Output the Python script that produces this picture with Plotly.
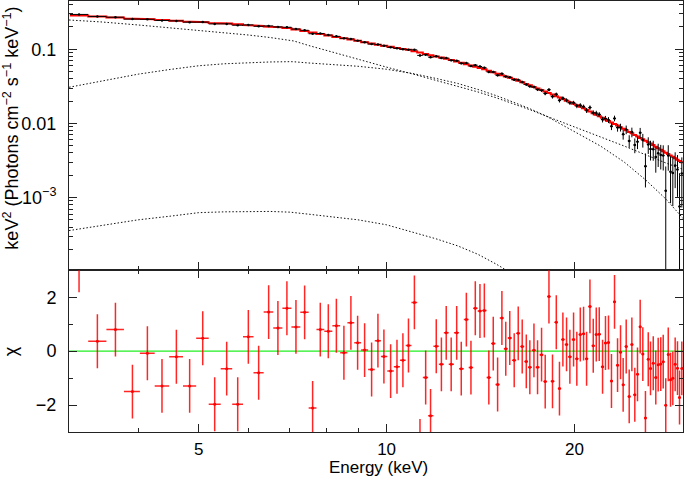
import numpy as np
import plotly.graph_objects as go

# ---------------- data ----------------
# bin centres (keV)
energy = [3.216, 3.441, 3.678, 3.916, 4.138, 4.367, 4.605, 4.836, 5.075, 5.304,
          5.544, 5.774, 6.005, 6.238, 6.472, 6.697, 6.923, 7.158, 7.391, 7.612,
          7.830, 8.065, 8.309, 8.543, 8.766, 8.986, 9.221, 9.462, 9.685, 9.901,
          10.15, 10.39, 10.62, 10.84, 11.08, 11.31, 11.55, 11.76, 12.01, 12.24,
          12.46, 12.69, 12.95, 13.17, 13.42, 13.65, 13.87, 14.11, 14.34, 14.58,
          14.82, 15.06, 15.30, 15.52, 15.75, 16.01, 16.25, 16.49, 16.74, 16.96,
          17.22, 17.45, 17.71, 17.95, 18.20, 18.44, 18.70, 18.92, 19.16, 19.42,
          19.66, 19.93, 20.17, 20.43, 20.68, 20.91, 21.17, 21.43, 21.67, 21.91,
          22.18, 22.42, 22.67, 22.92, 23.18, 23.44, 23.70, 23.93, 24.20, 24.47,
          24.71, 24.98, 25.23, 25.48, 25.73, 25.98, 26.25, 26.47, 26.74, 26.99,
          27.23, 27.49, 27.74, 28.00, 28.26, 28.50, 28.74, 28.99, 29.24, 29.46, 29.71]

# residuals (chi)
chi = [3.19, 0.37, 0.80, -1.50, -0.08, -1.29, -0.21, -1.29, 0.48, -1.97,
       -0.65, -1.97, 0.53, -0.80, 1.45, 0.86, 1.59, 0.90, 1.44, -2.11,
       0.80, 0.74, 0.94, -0.06, 1.05, 0.31, 0.04, -0.68, 0.39, -0.20,
       -0.74, -0.58, -0.34, 0.21, 1.81, -3.52, -0.98, -2.40, 0.18, -0.49,
       0.68, -0.49, 0.68, -0.65, 1.17, -0.61, 1.59, 1.49, 1.51, -0.98,
       0.28, -1.24, 1.23, 0.09, 0.49, -0.34, 0.66, 0.17, -0.38, -0.60,
       0.03, -0.60, -0.13, -1.13, 2.03, -1.12, 1.07, -1.39, 0.43, 0.25,
       -0.21, 0.43, -0.28, 0.62, 0.65, -0.28, 1.66, 0.20, 0.62, 0.63,
       -0.58, 0.30, 0.32, -1.11, 1.83, -0.52, -0.04, -1.25, 0.17, -1.68,
       0.25, -1.62, -0.86, 0.91, -0.11, -2.48, -0.30, -0.64, -0.45, -0.98,
       -0.50, -0.48, -0.39, -2.01, -0.12, -1.06, -1.01, -0.49, -0.63, -1.72, -0.64]
chi_err = [1.0] * len(chi)

# total model, keV^2 (Photons cm^-2 s^-1 keV^-1), per bin
model = [0.285, 0.276, 0.268, 0.260, 0.254, 0.248, 0.242, 0.236, 0.231, 0.226,
         0.222, 0.217, 0.2115, 0.2067, 0.2021, 0.1975, 0.1932, 0.185, 0.176, 0.168,
         0.161, 0.1536, 0.1469, 0.1408, 0.1353, 0.1298, 0.1243, 0.1192, 0.1153, 0.1117,
         0.1078, 0.1044, 0.1012, 0.0983, 0.0943, 0.0903, 0.0864, 0.0832, 0.0799, 0.0772,
         0.0746, 0.0718, 0.0686, 0.0658, 0.0630, 0.0605, 0.0582, 0.0559, 0.0536, 0.0512,
         0.0489, 0.0468, 0.0447, 0.0429, 0.0412, 0.0394, 0.0376, 0.0358, 0.0341, 0.0326,
         0.0310, 0.0296, 0.0282, 0.0269, 0.0257, 0.0245, 0.0233, 0.0223, 0.0213, 0.0202,
         0.0193, 0.0184, 0.0176, 0.0168, 0.0160, 0.0153, 0.0145, 0.0137, 0.0131, 0.0125,
         0.0119, 0.0113, 0.0108, 0.0103, 0.00981, 0.00934, 0.00888, 0.00849, 0.00807, 0.00768,
         0.00735, 0.00699, 0.00668, 0.00638, 0.00611, 0.00584, 0.00558, 0.00536, 0.00510, 0.00486,
         0.00464, 0.00442, 0.00423, 0.00403, 0.00386, 0.00369, 0.00354, 0.00338, 0.00324, 0.00312, 0.00299]

# relative 1-sigma error of the data points
rel_err = [0.011, 0.011, 0.012, 0.012, 0.012, 0.012, 0.013, 0.013, 0.013, 0.014,
           0.014, 0.014, 0.015, 0.015, 0.015, 0.016, 0.016, 0.017, 0.017, 0.017,
           0.018, 0.018, 0.018, 0.019, 0.019, 0.019, 0.020, 0.020, 0.020, 0.021,
           0.021, 0.022, 0.022, 0.023, 0.023, 0.024, 0.024, 0.025, 0.025, 0.026,
           0.027, 0.027, 0.028, 0.029, 0.029, 0.030, 0.031, 0.032, 0.033, 0.034,
           0.035, 0.036, 0.037, 0.038, 0.039, 0.040, 0.041, 0.042, 0.044, 0.045,
           0.046, 0.048, 0.049, 0.051, 0.053, 0.055, 0.057, 0.059, 0.061, 0.063,
           0.065, 0.067, 0.069, 0.071, 0.073, 0.075, 0.077, 0.079, 0.081, 0.083,
           0.085, 0.090, 0.095, 0.100, 0.105, 0.112, 0.120, 0.128, 0.136, 0.145,
           0.155, 0.165, 0.175, 0.190, 0.205, 0.220, 0.235, 0.250, 0.265, 0.280,
           0.295, 0.310, 0.325, 0.345, 0.360, 0.375, 0.390, 0.405, 0.420, 0.440, 0.460]

# model components (dotted curves)
comp_energy = [3.1, 3.5, 4.0, 4.5, 5.0, 5.5, 6.0, 6.5, 7.0, 7.1, 7.5, 8.0, 9.0, 10.0,
               11.0, 12.0, 13.0, 14.0, 15.0, 16.0, 17.0, 18.0, 19.0, 20.0, 22.0, 24.0,
               26.0, 28.0, 30.0]
comp_a = [0.2482, 0.2333, 0.2126, 0.1949, 0.1804, 0.1669, 0.1558, 0.1442, 0.1322, 0.1294,
          0.1125, 0.0964, 0.0724, 0.0574, 0.0465, 0.0380, 0.0320, 0.0266, 0.0221, 0.0183,
          0.0152, 0.0126, 0.01064, 0.00897, 0.00658, 0.00497, 0.00376, 0.00293, 0.00236]
comp_b = [0.03075, 0.03711, 0.04617, 0.05342, 0.05991, 0.06375, 0.06596, 0.06741, 0.06805,
          0.06783, 0.06534, 0.06297, 0.05899, 0.05376, 0.04719, 0.04041, 0.03459, 0.02872,
          0.02362, 0.01919, 0.01568, 0.01262, 0.00985, 0.00780, 0.00497, 0.00303, 0.00173,
          0.00096, 0.00050]
comp_c_energy = [3.1, 3.5, 4.0, 4.5, 5.0, 5.5, 6.0, 6.5, 7.0, 7.1, 7.5, 8.0, 9.0, 10.0,
                 11.0, 12.0, 13.0, 14.0, 15.0, 16.0, 17.0]
comp_c = [0.000359, 0.000421, 0.000501, 0.000561, 0.000626, 0.000642, 0.000650, 0.000650,
          0.000636, 0.000630, 0.000597, 0.000561, 0.000501, 0.000429, 0.000345, 0.000278,
          0.000223, 0.000172, 0.000126, 0.0000908, 0.0000709]

# ticks
x_major = [5, 10, 20]
x_major_text = ["5", "10", "20"]
x_minor = [4, 6, 7, 8, 9]
y_top_major = [0.1, 0.01, 0.001]
y_top_text = ["0.1", "0.01", "10<sup>\u22123</sup>"]
y_top_minor = [2e-4, 3e-4, 4e-4, 5e-4, 6e-4, 7e-4, 8e-4, 9e-4,
               2e-3, 3e-3, 4e-3, 5e-3, 6e-3, 7e-3, 8e-3, 9e-3,
               0.02, 0.03, 0.04, 0.05, 0.06, 0.07, 0.08, 0.09, 0.2, 0.3, 0.4]
y_bot_major = [-2, 0, 2]
y_bot_text = ["\u22122", "0", "2"]
y_bot_minor = [-1, 1]

# ---------------- derived quantities ----------------
E = np.array(energy)
M = np.array(model)
R = np.array(rel_err)
C = np.array(chi)
mid = np.sqrt(E[:-1] * E[1:])
lo = np.concatenate([[E[0] ** 2 / mid[0]], mid])
hi = np.concatenate([mid, [E[-1] ** 2 / mid[-1]]])
sig = M * R
flux = M + C * sig
step_x = np.column_stack([lo, hi]).ravel()
step_y = np.repeat(M, 2)

FONT = "Liberation Sans, Arial, Helvetica, sans-serif"
AX = "#222222"

fig = go.Figure()
dot = "1.5px,2px"
for ce, cv in ((comp_energy, comp_a), (comp_energy, comp_b), (comp_c_energy, comp_c)):
    fig.add_trace(go.Scatter(x=ce, y=cv, mode="lines", xaxis="x", yaxis="y",
                             line=dict(color="#111111", width=1, dash=dot),
                             hoverinfo="skip", showlegend=False))

fig.add_trace(go.Scatter(x=step_x, y=step_y, mode="lines", xaxis="x", yaxis="y",
                         line=dict(color="#ff0000", width=2), showlegend=False))

fig.add_trace(go.Scatter(
    x=E, y=flux, mode="markers", xaxis="x", yaxis="y",
    marker=dict(color="black", size=2.5),
    error_x=dict(type="data", symmetric=False, array=hi - E, arrayminus=E - lo,
                 color="black", thickness=1, width=0),
    error_y=dict(type="data", array=sig, color="black", thickness=1, width=0),
    showlegend=False))

fig.add_trace(go.Scatter(
    x=E, y=chi, mode="markers", xaxis="x2", yaxis="y2",
    marker=dict(color="#ff0000", size=3),
    error_x=dict(type="data", symmetric=False, array=hi - E, arrayminus=E - lo,
                 color="rgba(255,0,0,0.85)", thickness=1.5, width=0),
    error_y=dict(type="data", array=chi_err, color="rgba(255,0,0,0.85)",
                 thickness=1.5, width=0),
    showlegend=False))

fig.add_shape(type="line", xref="x2 domain", x0=0, x1=1, yref="y2", y0=0, y1=0,
              line=dict(color="#22ee22", width=1.4), layer="below")

W, H = 685, 478
L, Rm, T, B = 69.3, 1.5, 1.0, 45.7
split = (H - B - 270.5) / (H - B - T)

xr = [np.log10(3.099), np.log10(29.84)]
common_x = dict(type="log", range=xr, ticks="inside", tickvals=x_major, ticktext=x_major_text,
                ticklen=8, tickwidth=1, tickcolor=AX, showline=True, linecolor=AX,
                linewidth=1, mirror="ticks", showgrid=False, zeroline=False,
                automargin=False,
                minor=dict(tickvals=x_minor, ticklen=4, ticks="inside", tickcolor=AX,
                           tickwidth=1, showgrid=False),
                tickfont=dict(family=FONT, size=17, color="black"))

fig.update_layout(
    width=W, height=H,
    margin=dict(l=L, r=Rm, t=T, b=B, autoexpand=False),
    paper_bgcolor="white", plot_bgcolor="white",
    font=dict(family=FONT, color="black"),
    xaxis=dict(common_x, domain=[0, 1], anchor="y", showticklabels=False, matches="x2"),
    xaxis2=dict(common_x, domain=[0, 1], anchor="y2", showticklabels=True,
                ticklabelstandoff=2),
    yaxis=dict(type="log", domain=[split, 1], anchor="x", automargin=False,
               range=[-3.981, -0.349], ticks="inside", tickvals=y_top_major,
               ticktext=y_top_text, ticklen=8, tickwidth=1, tickcolor=AX,
               showline=True, linecolor=AX, linewidth=1, mirror="ticks",
               showgrid=False, zeroline=False, ticklabelstandoff=8,
               minor=dict(tickvals=y_top_minor, ticklen=4, ticks="inside",
                          tickcolor=AX, tickwidth=1, showgrid=False),
               tickfont=dict(family=FONT, size=18, color="black")),
    yaxis2=dict(domain=[0, split], anchor="x2", range=[-3, 3], ticks="inside",
                automargin=False,
                tickvals=y_bot_major, ticktext=y_bot_text, ticklen=8, tickwidth=1,
                tickcolor=AX, showline=True, linecolor=AX, linewidth=1,
                mirror="ticks", showgrid=False, zeroline=False, ticklabelstandoff=8,
                minor=dict(tickvals=y_bot_minor, ticklen=4, ticks="inside",
                           tickcolor=AX, tickwidth=1, showgrid=False),
                tickfont=dict(family=FONT, size=18, color="black")),
)

pw = W - L - Rm
ph = H - T - B
fig.add_annotation(text="keV<sup>2</sup> (Photons cm<sup>\u22122</sup> s<sup>\u22121</sup> keV<sup>\u22121</sup>)",
                   xref="paper", yref="paper", x=(12 - L) / pw, y=(H - B - 128) / ph,
                   xanchor="center", yanchor="middle", textangle=-90, showarrow=False,
                   font=dict(family=FONT, size=18, color="black"))
fig.add_annotation(text="\u03c7", xref="paper", yref="paper",
                   x=(12 - L) / pw, y=(H - B - 351.7) / ph,
                   xanchor="center", yanchor="middle", textangle=-90, showarrow=False,
                   font=dict(family=FONT, size=18, color="black"))
fig.add_annotation(text="Energy (keV)", xref="paper", yref="paper",
                   x=(378.5 - L) / pw, y=(H - B - 468) / ph,
                   xanchor="center", yanchor="middle", showarrow=False,
                   font=dict(family=FONT, size=17, color="black"))

fig.write_html("out.html", config={"displayModeBar": False},
               post_script="document.body.style.margin='0px';document.body.style.overflow='hidden';")
